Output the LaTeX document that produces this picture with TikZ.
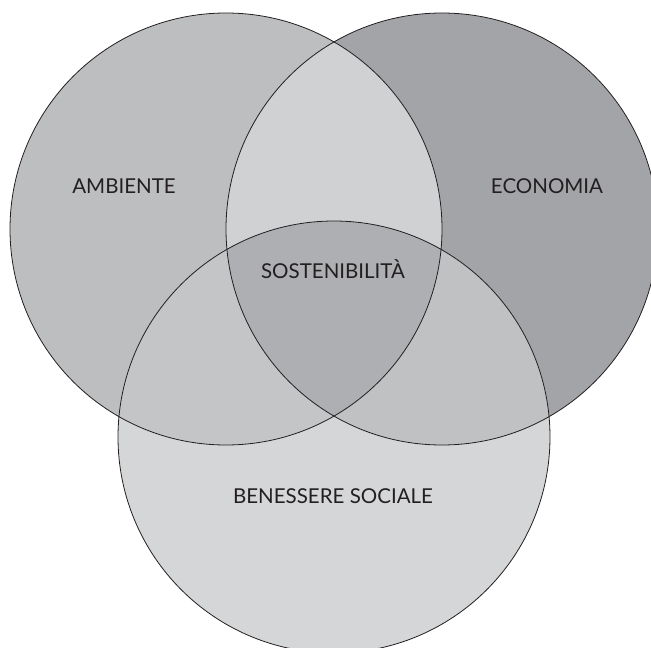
\documentclass[tikz,border=0pt]{standalone}
\usepackage{fontspec}
\setmainfont{Lato}
\usetikzlibrary{positioning}

\definecolor{ambcol}{RGB}{189,190,192}
\definecolor{ecocol}{RGB}{163,164,168}
\definecolor{soccol}{RGB}{213,214,216}
\definecolor{aecol}{RGB}{208,209,211}
\definecolor{ascol}{RGB}{196,197,199}
\definecolor{escol}{RGB}{192,193,195}
\definecolor{sostcol}{RGB}{174,175,178}
\definecolor{inkcol}{RGB}{35,31,32}

\begin{document}
\begin{tikzpicture}[x=1pt,y=-1pt,
ring/.style={draw=inkcol,line width=0.8pt},
tag/.style={text=inkcol,font=\fontsize{20.5}{24}\selectfont,inner sep=0pt}]
\useasboundingbox (0,0) rectangle (651,648);
\def\rad{216pt}
\coordinate (amb) at (226,229);
\coordinate (eco) at (442,229);
\coordinate (soc) at (334,437);
% the three sets
\fill[ambcol] (amb) circle[radius=\rad];
\fill[ecocol] (eco) circle[radius=\rad];
\fill[soccol] (soc) circle[radius=\rad];
% pairwise overlaps
\begin{scope}
\clip (amb) circle[radius=\rad];
\fill[aecol] (eco) circle[radius=\rad];
\fill[ascol] (soc) circle[radius=\rad];
\end{scope}
\begin{scope}
\clip (eco) circle[radius=\rad];
\fill[escol] (soc) circle[radius=\rad];
\end{scope}
% common part
\begin{scope}
\clip (amb) circle[radius=\rad];
\clip (eco) circle[radius=\rad];
\fill[sostcol] (soc) circle[radius=\rad];
\end{scope}
\draw[ring] (amb) circle[radius=\rad];
\draw[ring] (eco) circle[radius=\rad];
\draw[ring] (soc) circle[radius=\rad];
\node (ambiente) [tag] at (124,186) {AMBIENTE};
\node (economia) [tag] at (547,186) {ECONOMIA};
\node (sostenibilita) [tag] at (333,269) {SOSTENIBILITÀ};
\node (benessere) [tag] at (333,496) {BENESSERE SOCIALE};
\end{tikzpicture}
\end{document}
